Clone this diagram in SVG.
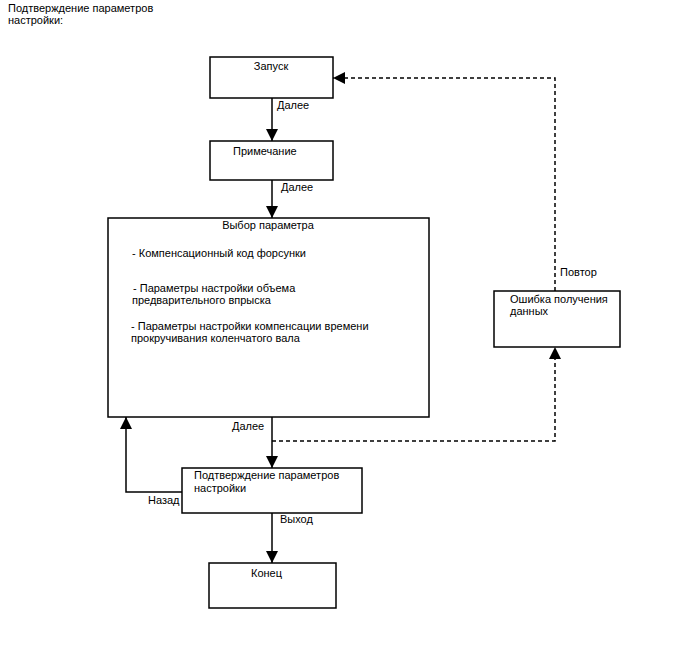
<svg xmlns="http://www.w3.org/2000/svg" width="688" height="658" viewBox="0 0 688 658">
<style>
text{font-family:"Liberation Sans",Arial,sans-serif;font-size:11px;fill:#000}
.box{fill:#fff;stroke:#000;stroke-width:1.5}
.ln{fill:none;stroke:#000;stroke-width:1.5}
.dash{fill:none;stroke:#000;stroke-width:1.5;stroke-dasharray:4,3}
</style>
<defs>
<marker id="ah" markerWidth="12" markerHeight="12" refX="12" refY="6" orient="auto" markerUnits="userSpaceOnUse">
<path d="M0,0 L12,6 L0,12 Z" fill="#000"/>
</marker>
</defs>
<rect width="688" height="658" fill="#fff"/>
<text x="8" y="12">Подтверждение параметров</text>
<text x="8" y="24">настройки:</text>
<g id="connectors">
<line class="ln" x1="272" y1="98" x2="272" y2="141" marker-end="url(#ah)"/>
<line class="ln" x1="272" y1="180" x2="272" y2="218" marker-end="url(#ah)"/>
<line class="ln" x1="272" y1="417" x2="272" y2="468" marker-end="url(#ah)"/>
<line class="ln" x1="272" y1="513" x2="272" y2="563" marker-end="url(#ah)"/>
<polyline class="ln" points="182,492 126,492 126,417" marker-end="url(#ah)"/>
<polyline class="dash" points="272,441 555,441 555,347" marker-end="url(#ah)"/>
<polyline class="dash" points="555,291 555,78 333,78" marker-end="url(#ah)"/>
<text x="277" y="109">Далее</text>
<text x="281" y="191">Далее</text>
<text x="232" y="430">Далее</text>
<text x="148" y="504">Назад</text>
<text x="280" y="523">Выход</text>
<text x="560" y="276">Повтор</text>
</g>
<g id="start">
<rect class="box" x="210" y="57" width="123" height="41"/>
<text x="271" y="70" text-anchor="middle">Запуск</text>
</g>
<g id="note">
<rect class="box" x="210" y="141" width="123" height="39"/>
<text x="233" y="155">Примечание</text>
</g>
<g id="select">
<rect class="box" x="108" y="218" width="321" height="199"/>
<text x="268" y="229" text-anchor="middle">Выбор параметра</text>
<text x="132" y="257">- Компенсационный код форсунки</text>
<text x="133" y="292">- Параметры настройки объема</text>
<text x="132" y="304">предварительного впрыска</text>
<text x="131" y="330">- Параметры настройки компенсации времени</text>
<text x="131" y="342">прокручивания коленчатого вала</text>
</g>
<g id="confirm">
<rect class="box" x="182" y="468" width="180" height="45"/>
<text x="194" y="479">Подтверждение параметров</text>
<text x="194" y="492">настройки</text>
</g>
<g id="end">
<rect class="box" x="209" y="563" width="127" height="45"/>
<text x="251" y="577">Конец</text>
</g>
<g id="error">
<rect class="box" x="494" y="291" width="126" height="56"/>
<text x="510" y="303">Ошибка получения</text>
<text x="510" y="315">данных</text>
</g>
</svg>
